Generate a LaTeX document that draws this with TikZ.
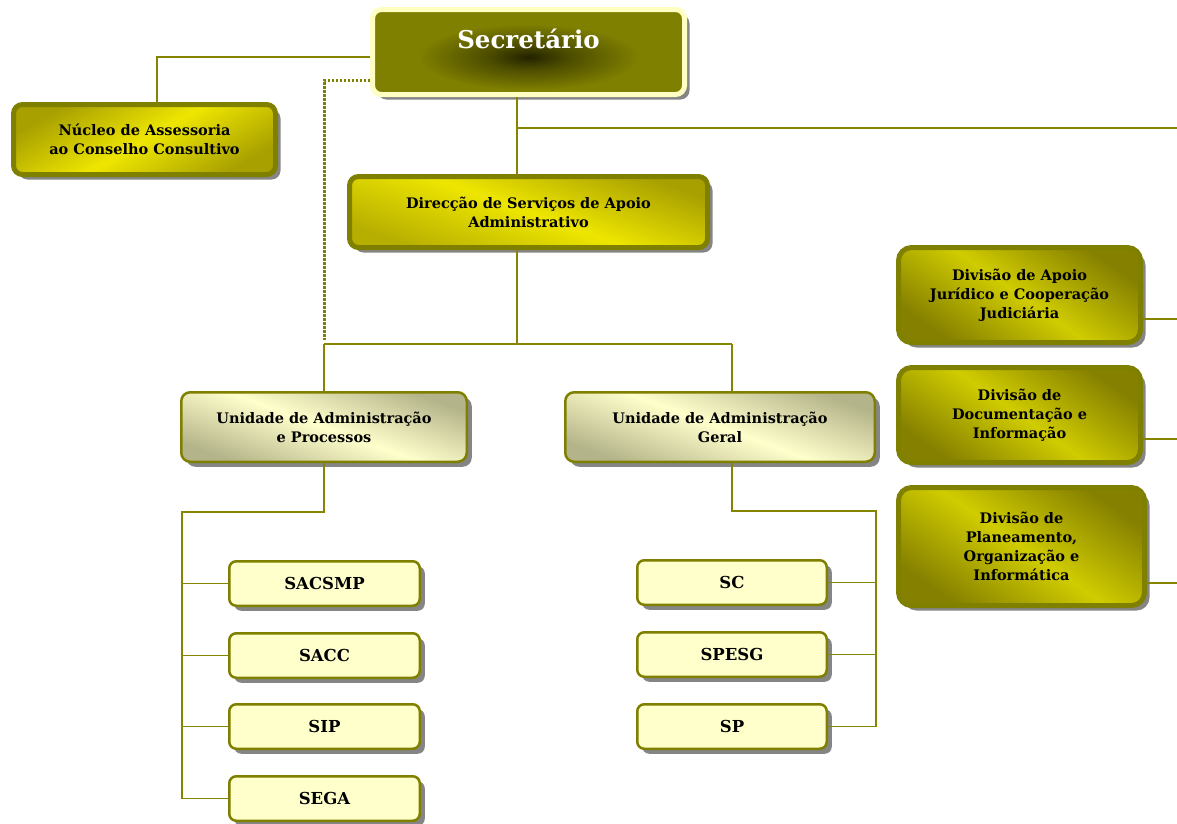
\documentclass[tikz,border=0pt]{standalone}
\usepackage{fontspec}
\setmainfont{DejaVu Serif}
\usetikzlibrary{shadows}
\definecolor{olv}{HTML}{808000}
\definecolor{linec}{HTML}{858500}
\definecolor{yel}{HTML}{EEE600}
\definecolor{yeldk}{HTML}{A8A000}
\definecolor{ryel}{HTML}{D0CC00}
\definecolor{ryeldk}{HTML}{858000}
\definecolor{cream}{HTML}{FFFFCC}
\definecolor{creamdk}{HTML}{B4B48A}
\definecolor{secol}{HTML}{7F7F00}
\definecolor{secdark}{HTML}{222200}
\definecolor{secborder}{HTML}{FFFFC4}
\definecolor{shad}{HTML}{858585}
\pgfdeclareradialshading{secshade}{\pgfpoint{0bp}{0bp}}{color(0bp)=(secdark); color(4bp)=(secdark!55!secol); color(11bp)=(secol); color(50bp)=(secol)}
\tikzset{
  box/.style={rounded corners=9pt, align=center, inner sep=0pt,
    font=\bfseries\fontsize{14.5}{19}\selectfont,
    drop shadow={shadow xshift=5pt,shadow yshift=-5pt,fill=shad,opacity=1}},
  secbox/.style={box, draw=secborder, line width=5pt, fill=secol, text=white,
    font=\bfseries\fontsize{24.5}{28}\selectfont,
    path picture={\shade[shading=secshade]
      ([yshift=-5pt]path picture bounding box.center) ellipse [x radius=250pt, y radius=75pt];}},
  nucbox/.style={box, draw=olv, line width=5pt, left color=yeldk, right color=yeldk, middle color=yel, shading angle=30},
  dsbox/.style={box, draw=olv, line width=5pt, left color=yeldk, right color=yeldk!80!yel, middle color=yel, shading angle=-20},
  divbox/.style={box, draw=olv, line width=5pt, rounded corners=13pt, left color=ryeldk, right color=ryeldk, middle color=ryel, shading angle=-35},
  unbox/.style={box, draw=olv, line width=2.5pt, left color=creamdk, right color=creamdk, middle color=cream, shading angle=-20},
  smbox/.style={box, draw=olv, line width=2.5pt, rounded corners=7pt, fill=cream, font=\bfseries\fontsize{16.5}{20}\selectfont},
  conn/.style={draw=linec, line width=1.6pt},
  dotline/.style={draw=olv, line width=3pt, dash pattern=on 2.5pt off 1.5pt}
}
\begin{document}
\begin{tikzpicture}[x=1pt,y=-1pt]
\useasboundingbox (0,0) rectangle (1177,823);
% nodes
\node[secbox, minimum width=312pt, minimum height=85pt] (sec) at (528.5,52) {\raisebox{4pt}[0pt][0pt]{Secretário}};
\node[nucbox, minimum width=262pt, minimum height=70pt] (nuc) at (144.5,139.5) {Núcleo de Assessoria\\ao Conselho Consultivo};
\node[dsbox, minimum width=358pt, minimum height=71pt] (dsaa) at (528.5,212) {Direcção de Serviços de Apoio\\Administrativo};
\node[divbox, minimum width=242pt, minimum height=95pt] (dap) at (1019.5,295) {Divisão de Apoio\\Jurídico e Cooperação\\Judiciária};
\node[divbox, minimum width=242pt, minimum height=95pt] (ddi) at (1019.5,415) {Divisão de\\Documentação e\\Informação};
\node[divbox, minimum width=246pt, minimum height=118pt] (dpo) at (1021.5,546.5) {Divisão de\\Planeamento,\\Organização e\\Informática};
\node[unbox, minimum width=285.5pt, minimum height=69.5pt] (uap) at (324,427) {Unidade de Administração\\e Processos};
\node[unbox, minimum width=309.5pt, minimum height=69.5pt] (uag) at (720,427) {Unidade de Administração\\Geral};
\node[smbox, minimum width=190.5pt, minimum height=44.5pt] (sacsmp) at (324.5,583.5) {SACSMP};
\node[smbox, minimum width=190.5pt, minimum height=44.5pt] (sacc) at (324.5,655.5) {SACC};
\node[smbox, minimum width=190.5pt, minimum height=44.5pt] (sip) at (324.5,726.5) {SIP};
\node[smbox, minimum width=190.5pt, minimum height=44.5pt] (sega) at (324.5,798.5) {SEGA};
\node[smbox, minimum width=189.5pt, minimum height=44.5pt] (sc) at (732,582.5) {SC};
\node[smbox, minimum width=189.5pt, minimum height=44.5pt] (spesg) at (732,654.5) {SPESG};
\node[smbox, minimum width=189.5pt, minimum height=44.5pt] (sp) at (732,726.5) {SP};
% junction coordinates
\coordinate (jTop) at (517,128);
\coordinate (eTop) at (1177,128);
\coordinate (jMid) at (517,344);
\coordinate (jL) at (324,344);
\coordinate (jR) at (732,344);
\coordinate (lb) at (182,512);
\coordinate (rb) at (876,511);
\coordinate (e1) at (1177,319);
\coordinate (e2) at (1177,439);
\coordinate (e3) at (1177,583);
% connectors
\draw[conn] ([yshift=-5pt]sec.west) -| ([xshift=12.5pt]nuc.north);
\draw[dotline] ([yshift=-28pt]sec.west) -| ([yshift=4pt]jL);
\draw[conn] ([xshift=-11.5pt]sec.south) -- ([xshift=-11.5pt]dsaa.north);
\draw[conn] (jTop) -- (eTop);
\draw[conn] ([xshift=-11.5pt]dsaa.south) -- (jMid);
\draw[conn] (jL) -- (jR);
\draw[conn] (jL) -- (uap.north);
\draw[conn] (jR) -- ([xshift=12pt]uag.north);
\draw[conn] (uap.south) |- (lb) |- (sega.west);
\draw[conn] (lb |- sacsmp.west) -- (sacsmp.west);
\draw[conn] (lb |- sacc.west) -- (sacc.west);
\draw[conn] (lb |- sip.west) -- (sip.west);
\draw[conn] ([xshift=12pt]uag.south) |- (rb) |- (sp.east);
\draw[conn] (rb |- sc.east) -- (sc.east);
\draw[conn] (rb |- spesg.east) -- (spesg.east);
\draw[conn] ([yshift=-24pt]dap.east) -- (e1);
\draw[conn] ([yshift=-24pt]ddi.east) -- (e2);
\draw[conn] ([yshift=-36.5pt]dpo.east) -- (e3);
\end{tikzpicture}
\end{document}
